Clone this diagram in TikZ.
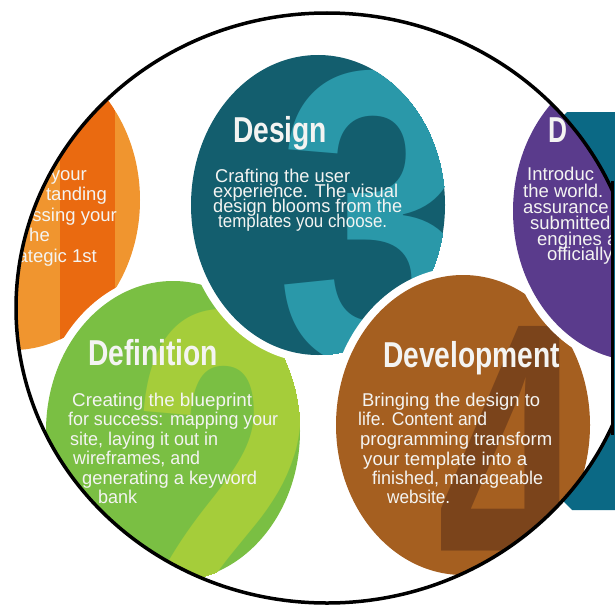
\documentclass[tikz,border=0pt]{standalone}
\usepackage{fontspec}
\setmainfont{Liberation Sans}
\usepackage{graphicx}
\definecolor{orL}{HTML}{F0952F}
\definecolor{orD}{HTML}{EA6A10}
\definecolor{grB}{HTML}{7ABF43}
\definecolor{grL}{HTML}{A5CD3A}
\definecolor{teB}{HTML}{135E6E}
\definecolor{teL}{HTML}{2A98A9}
\definecolor{brB}{HTML}{A55F20}
\definecolor{brD}{HTML}{7B441B}
\definecolor{puB}{HTML}{5A3B8C}
\definecolor{puL}{HTML}{7E5DB3}
\definecolor{recC}{HTML}{0B6985}
\definecolor{txtW}{HTML}{F4F4F2}
\tikzset{
 titletxt/.style={text=txtW, font=\fontsize{36}{36}\selectfont\bfseries, inner sep=0pt, anchor=base west},
 bodytxt/.style={text=txtW, font=\fontsize{18.5}{18.5}\selectfont, inner sep=0pt, anchor=base west},
 bignum/.style={inner sep=0pt, anchor=base west, font=\fontsize{#1}{#1}\selectfont\bfseries},
 ring/.style={fill=white},
 frame/.style={line width=3.5pt},
}
\newcommand{\fitw}[2]{\resizebox{#1pt}{\height}{#2}}
\begin{document}
\begin{tikzpicture}[x=1pt,y=-1pt]
\useasboundingbox (0,0) rectangle (615,610);
\coordinate (cBig) at (327,308);
\coordinate (cO) at (13,200);
\coordinate (cG) at (173,431);
\coordinate (cT) at (318,205);
\coordinate (cB) at (463,425);
\coordinate (cP) at (640,211);
% background panel on the right
\begin{scope}
\clip (0,0) rectangle (615,610);
\fill[recC] (567,112) -- (620,112) -- (620,510) -- (572,510) -- (562,500) -- (562,117) -- cycle;
\end{scope}
\begin{scope}
\clip (0,0) rectangle (612.5,610);
\fill[white] (cBig) ellipse [x radius=311pt, y radius=295pt];
\clip (cBig) ellipse [x radius=311pt, y radius=295pt];
% ---- orange (1)
\begin{scope}
 \clip (cO) ellipse [x radius=127pt, y radius=150pt];
 \fill[orL] (-150,0) rectangle (200,400);
 \fill[orD] (60,0) rectangle (115,400);
\end{scope}
\node[bodytxt, anchor=base east] (o1) at (87,180) {your};
\node[bodytxt, anchor=base east] (o2) at (107,200.5) {tanding};
\node[bodytxt, anchor=base east] (o3) at (117,221) {ssing your};
\node[bodytxt, anchor=base east] (o4) at (50,241.5) {he};
\node[bodytxt, anchor=base east] (o5) at (97,262) {ategic 1st};
% ---- green (2)
\fill[ring] (cG) ellipse [x radius=135pt, y radius=158pt];
\begin{scope}
 \clip (cG) ellipse [x radius=127pt, y radius=150pt];
 \fill[grB] (0,250) rectangle (320,620);
 \node[bignum=520, text=grL] (n2) at (130,672) {\scalebox{0.65}[1]{2}};
\end{scope}
\node[titletxt] (tDef) at (88,365) {\fitw{130}{Definition}};
\node[bodytxt] (d1) at (72,406) {\fitw{180}{Creating the blueprint}};
\node[bodytxt] (d2) at (68,425) {\fitw{210}{for success: mapping your}};
\node[bodytxt] (d3) at (70,445) {\fitw{148}{site, laying it out in}};
\node[bodytxt] (d4) at (73,464) {\fitw{127}{wireframes, and}};
\node[bodytxt] (d5) at (82,484) {\fitw{175}{generating a keyword}};
\node[bodytxt] (d6) at (98,503) {\fitw{39}{bank}};
% ---- teal (3)
\fill[ring] (cT) ellipse [x radius=135pt, y radius=158pt];
\begin{scope}
 \clip (cT) ellipse [x radius=127pt, y radius=150pt];
 \fill[teB] (180,40) rectangle (460,370);
 \node[bignum=420, text=teL] (n3) at (276,363) {\scalebox{0.85}[1]{3}};
\end{scope}
\node[titletxt] (tDes) at (233,142) {\fitw{94}{Design}};
\node[bodytxt] (s1) at (215,182) {\fitw{135}{Crafting the user}};
\node[bodytxt] (s2) at (213,197) {\fitw{185}{experience. The visual}};
\node[bodytxt] (s3) at (213,212) {\fitw{189}{design blooms from the}};
\node[bodytxt] (s4) at (218,227) {\fitw{169}{templates you choose.}};
% ---- brown (4)
\fill[ring] (cB) ellipse [x radius=135pt, y radius=158pt];
\begin{scope}
 \clip (cB) ellipse [x radius=127pt, y radius=150pt];
 \fill[brB] (320,260) rectangle (600,590);
 \node[bignum=410, text=brD] (n4) at (437,608) {\scalebox{0.65}[1]{4}};
\end{scope}
\node[titletxt] (tDev) at (383,367) {\fitw{177}{Development}};
\node[bodytxt] (v1) at (362,406) {\fitw{178}{Bringing the design to}};
\node[bodytxt] (v2) at (358,425) {\fitw{129}{life. Content and}};
\node[bodytxt] (v3) at (360,445) {\fitw{192}{programming transform}};
\node[bodytxt] (v4) at (363,465) {\fitw{164}{your template into a}};
\node[bodytxt] (v5) at (372,484) {\fitw{171}{finished, manageable}};
\node[bodytxt] (v6) at (387,503) {\fitw{63}{website.}};
% ---- purple (5)
\fill[ring] (cP) ellipse [x radius=135pt, y radius=158pt];
\begin{scope}
 \clip (cP) ellipse [x radius=127pt, y radius=150pt];
 \fill[puB] (500,50) rectangle (620,370);
 \node[bignum=300, text=puL] (n5) at (598,505) {5};
\end{scope}
\node[titletxt] (tDep) at (548,142) {\fitw{19}{D}};
\node[bodytxt] (p1) at (527,180) {Introduc};
\node[bodytxt] (p2) at (523,197) {the world.};
\node[bodytxt] (p3) at (523,213) {assurance};
\node[bodytxt] (p4) at (530,229) {submitted};
\node[bodytxt] (p5) at (537,245) {engines a};
\node[bodytxt] (p6) at (547,260) {officially};
\end{scope}
% frame: ellipse flattened on the right
\begin{scope}
\clip (-10,-10) rectangle (612.5,620);
\draw[frame] (cBig) ellipse [x radius=311pt, y radius=295pt];
\end{scope}
\coordinate (fTop) at (612.5,181);
\coordinate (fBot) at (612.5,435);
\draw[frame] (fTop) -- (fBot);
\end{tikzpicture}
\end{document}
